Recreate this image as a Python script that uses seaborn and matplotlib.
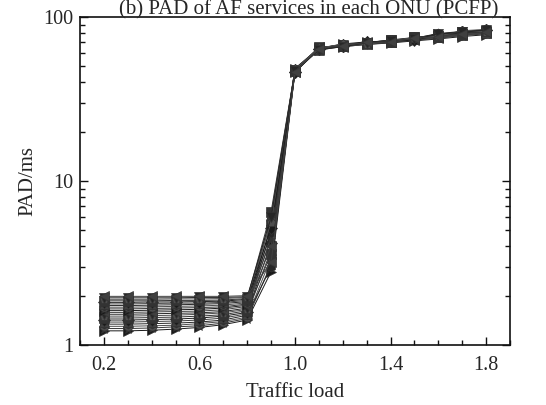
import numpy as np
import pandas as pd
import matplotlib
matplotlib.use("Agg")
import matplotlib.pyplot as plt
import seaborn as sns
from matplotlib.ticker import MultipleLocator, FixedLocator, NullFormatter

loads = [0.2, 0.3, 0.4, 0.5, 0.6, 0.7, 0.8, 0.9, 1.0, 1.1, 1.2, 1.3, 1.4, 1.5, 1.6, 1.7, 1.8]

onu01 = [1.22, 1.22, 1.23, 1.25, 1.28, 1.33, 1.42, 2.8, 46.5, 63.0, 66.0, 68.0, 69.5, 71.5, 73.5, 76.0, 78.0]
onu02 = [1.26, 1.26, 1.27, 1.29, 1.31, 1.36, 1.45, 3.1, 47.0, 63.5, 66.5, 68.5, 70.0, 72.0, 74.5, 77.0, 79.0]
onu03 = [1.30, 1.30, 1.31, 1.32, 1.35, 1.39, 1.48, 3.4, 46.0, 64.0, 66.0, 69.0, 70.5, 73.0, 75.0, 78.0, 80.0]
onu04 = [1.34, 1.34, 1.35, 1.36, 1.38, 1.42, 1.52, 3.0, 47.5, 64.5, 67.0, 69.5, 71.0, 72.5, 76.0, 79.0, 81.0]
onu05 = [1.38, 1.38, 1.39, 1.40, 1.42, 1.46, 1.55, 3.8, 48.0, 63.0, 67.5, 68.5, 70.5, 73.5, 77.0, 80.0, 82.0]
onu06 = [1.42, 1.42, 1.43, 1.44, 1.46, 1.50, 1.58, 4.2, 46.5, 64.0, 66.5, 70.0, 71.5, 74.0, 78.0, 81.0, 83.0]
onu07 = [1.46, 1.46, 1.47, 1.48, 1.50, 1.53, 1.62, 3.6, 47.0, 65.0, 67.0, 69.0, 72.0, 74.5, 75.0, 78.5, 80.5]
onu08 = [1.50, 1.50, 1.51, 1.52, 1.54, 1.57, 1.65, 4.6, 48.5, 64.5, 68.0, 70.0, 71.0, 73.0, 79.0, 82.0, 83.5]
onu09 = [1.54, 1.54, 1.55, 1.56, 1.57, 1.60, 1.68, 5.0, 47.0, 63.5, 67.5, 69.5, 72.5, 75.0, 76.5, 80.5, 81.5]
onu10 = [1.58, 1.58, 1.59, 1.60, 1.61, 1.64, 1.72, 4.0, 46.0, 65.5, 66.0, 68.0, 70.0, 72.5, 74.0, 77.5, 79.5]
onu11 = [1.62, 1.62, 1.63, 1.64, 1.65, 1.68, 1.75, 5.4, 48.0, 64.0, 68.5, 70.5, 71.5, 74.5, 78.5, 81.5, 82.5]
onu12 = [1.66, 1.66, 1.67, 1.68, 1.69, 1.71, 1.78, 4.4, 47.5, 63.0, 67.0, 69.0, 72.0, 73.5, 77.5, 79.5, 81.0]
onu13 = [1.70, 1.70, 1.71, 1.72, 1.73, 1.75, 1.81, 5.8, 46.5, 65.0, 66.5, 70.0, 70.5, 75.5, 76.0, 82.5, 84.0]
onu14 = [1.74, 1.74, 1.75, 1.76, 1.77, 1.79, 1.84, 4.8, 48.5, 64.5, 68.0, 68.5, 71.0, 74.0, 79.5, 80.0, 82.0]
onu15 = [1.78, 1.78, 1.79, 1.80, 1.80, 1.82, 1.87, 6.2, 47.0, 63.5, 67.5, 69.5, 72.5, 73.0, 75.5, 78.0, 80.0]
onu16 = [1.82, 1.82, 1.83, 1.83, 1.84, 1.85, 1.90, 5.2, 46.0, 64.0, 66.5, 70.5, 71.5, 72.0, 78.0, 81.0, 83.0]
onu17 = [1.86, 1.86, 1.86, 1.87, 1.87, 1.88, 1.92, 6.5, 47.5, 65.5, 67.0, 69.0, 70.0, 75.0, 77.0, 79.0, 82.5]
onu18 = [1.90, 1.90, 1.90, 1.91, 1.91, 1.92, 1.95, 5.6, 48.0, 64.5, 68.5, 68.0, 72.0, 74.5, 76.5, 82.0, 81.5]
onu19 = [1.94, 1.94, 1.94, 1.94, 1.95, 1.95, 1.97, 6.0, 47.0, 63.0, 66.0, 69.5, 71.5, 73.0, 79.0, 80.5, 83.5]
onu20 = [1.98, 1.98, 1.98, 1.98, 1.98, 1.98, 2.00, 3.2, 46.5, 64.0, 67.0, 70.0, 70.5, 74.0, 75.5, 78.5, 80.5]

series = [onu01, onu02, onu03, onu04, onu05, onu06, onu07, onu08, onu09, onu10,
          onu11, onu12, onu13, onu14, onu15, onu16, onu17, onu18, onu19, onu20]
names = ["ONU%02d" % (i + 1) for i in range(len(series))]

xticks = [0.2, 0.6, 1.0, 1.4, 1.8]
xticklabels = ["0.2", "0.6", "1.0", "1.4", "1.8"]
yticks = [1, 10, 100]
yticklabels = ["1", "10", "100"]

df = pd.DataFrame({
    "load": np.tile(loads, len(series)),
    "pad": np.concatenate(series),
    "onu": np.repeat(names, len(loads)),
})

sns.set_style("ticks")
plt.rcParams["font.family"] = ["Liberation Serif", "DejaVu Serif"]

fig = plt.figure(figsize=(5.46, 4.05), dpi=100)
ax = fig.add_axes([80 / 546, 1 - 345 / 405, 430 / 546, 328 / 405])

marker_cycle = ['>', '*', 'o', 'h', '^', 'D', 's', 'p', 'v', '<']
markers = {n: marker_cycle[i % len(marker_cycle)] for i, n in enumerate(names)}
grays = ["#1a1a1a", "#333333", "#4d4d4d", "#262626", "#404040"]
palette = {n: grays[i % len(grays)] for i, n in enumerate(names)}

sns.lineplot(data=df, x="load", y="pad", hue="onu", style="onu",
             markers=markers, dashes=False, palette=palette, legend=False,
             linewidth=0.7, markersize=6.5, markeredgecolor="#333333",
             markeredgewidth=0.5, ax=ax)

ax.set_yscale("log")
ax.set_xlim(0.1, 1.9)
ax.set_ylim(1, 100)
ax.xaxis.set_major_locator(FixedLocator(xticks))
ax.set_xticklabels(xticklabels)
ax.xaxis.set_minor_locator(MultipleLocator(0.1))
ax.yaxis.set_major_locator(FixedLocator(yticks))
ax.set_yticklabels(yticklabels)
ax.yaxis.set_minor_formatter(NullFormatter())
ax.tick_params(which="both", direction="in", top=False, right=True,
               labelsize=14.5, color="#111111", width=1)
ax.tick_params(which="major", length=6)
ax.tick_params(which="minor", length=3.5)
ax.tick_params(axis="x", which="major", pad=8)
ax.tick_params(axis="y", which="major", pad=5)
for s in ax.spines.values():
    s.set_linewidth(1.2)
    s.set_color("#111111")

ax.set_xlabel("Traffic load", fontsize=15, labelpad=6)
ax.set_ylabel("PAD/ms", fontsize=15, labelpad=4)

fig.text(0.566, 1 - 14 / 405, "(b) PAD of AF services in each ONU (PCFP)",
         ha="center", va="baseline", fontsize=15)

fig.savefig("out.png", dpi=100)
